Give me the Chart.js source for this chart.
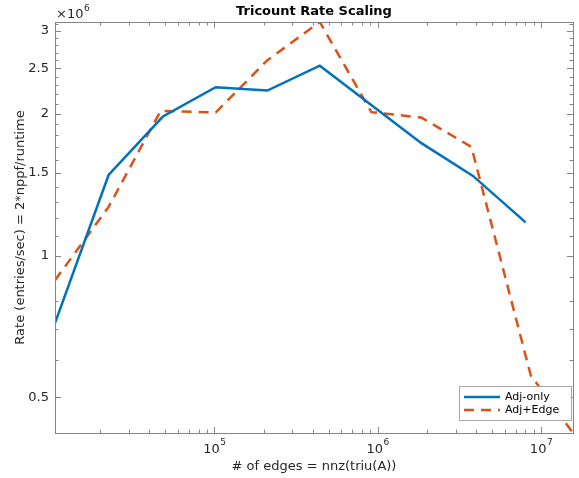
<!DOCTYPE html>
<html>
<head>
<meta charset="utf-8">
<script src="https://cdn.jsdelivr.net/npm/chart.js"></script>
<style>
  body { margin: 0; background: #fff; }
  #wrap { width: 579px; height: 478px; }
</style>
</head>
<body>
<div id="wrap"><canvas id="myChart"></canvas></div>
<script>
// data
var edgesAdj = [1.057e4, 2.25e4, 4.84e4, 1.018e5, 2.11e5, 4.42e5, 9.18e5, 1.852e6, 3.83e6, 8.05e6];
var rateAdj = [0.719e6, 1.484e6, 1.975e6, 2.28e6, 2.243e6, 2.532e6, 2.086e6, 1.734e6, 1.477e6, 1.177e6];
var edgesEdge = [1.057e4, 2.25e4, 4.69e4, 1.018e5, 2.11e5, 4.42e5, 9.15e5, 1.852e6, 3.75e6, 8.65e6, 1.57e7];
var rateEdge = [0.887e6, 1.269e6, 2.031e6, 2.014e6, 2.601e6, 3.136e6, 2.018e6, 1.965e6, 1.702e6, 0.557e6, 0.420e6];
var seriesNames = ["Adj-only", "Adj+Edge"];

// axis ticks
var xTickVals = [1e5, 1e6, 1e7];
var xTickExps = ["5", "6", "7"];
var yTickVals = [0.5e6, 1e6, 1.5e6, 2e6, 2.5e6, 3e6];
var yTickLabels = ["0.5", "1", "1.5", "2", "2.5", "3"];

var FONT = "DejaVu Sans";
var TXT = "#262626";
var AXC = "#858585";

function toXY(xs, ys) {
  return xs.map(function (x, i) { return {x: x, y: ys[i]}; });
}

var matlabAxes = {
  id: "matlabAxes",
  afterDraw: function (chart) {
    var ctx = chart.ctx, a = chart.chartArea;
    var xs = chart.scales.x, ys = chart.scales.y;
    ctx.save();
    ctx.strokeStyle = AXC;
    ctx.lineWidth = 1;
    // box
    ctx.strokeRect(Math.round(a.left) + 0.5, Math.round(a.top) + 0.5,
      Math.round(a.right - a.left), Math.round(a.bottom - a.top));

    ctx.beginPath();
    // x ticks (major + minor), inward on top and bottom
    for (var d = 1e4; d <= 1e7; d *= 10) {
      for (var m = 1; m <= 9; m++) {
        var v = d * m;
        if (v < xs.min || v > xs.max) continue;
        var px = Math.round(xs.getPixelForValue(v)) + 0.5;
        var len = m === 1 ? 6 : 3.5;
        ctx.moveTo(px, a.bottom); ctx.lineTo(px, a.bottom - len);
        ctx.moveTo(px, a.top); ctx.lineTo(px, a.top + len);
      }
    }
    // y ticks every 0.1e6
    for (var k = 4; k <= 31; k++) {
      var yv = k * 1e5;
      if (yv < ys.min || yv > ys.max) continue;
      var py = Math.round(ys.getPixelForValue(yv)) + 0.5;
      var major = (k % 5 === 0);
      var l2 = major ? 6 : 3.5;
      ctx.moveTo(a.left, py); ctx.lineTo(a.left + l2, py);
      ctx.moveTo(a.right, py); ctx.lineTo(a.right - l2, py);
    }
    ctx.stroke();

    // x tick labels 10^n
    ctx.fillStyle = TXT;
    ctx.textBaseline = "alphabetic";
    xTickVals.forEach(function (v, i) {
      var px = xs.getPixelForValue(v);
      ctx.font = "13px '" + FONT + "'";
      var w1 = ctx.measureText("10").width;
      ctx.font = "9px '" + FONT + "'";
      var w2 = ctx.measureText(xTickExps[i]).width;
      var left = px - (w1 + w2) / 2;
      ctx.font = "13px '" + FONT + "'";
      ctx.textAlign = "left";
      ctx.fillText("10", left, 453);
      ctx.font = "9px '" + FONT + "'";
      ctx.fillText(xTickExps[i], left + w1 + 0.5, 445);
    });

    // exponent multiplier
    ctx.font = "13px '" + FONT + "'";
    ctx.textAlign = "left";
    ctx.fillText("\u00d710", a.left + 1, 18);
    var wm = ctx.measureText("\u00d710").width;
    ctx.font = "9px '" + FONT + "'";
    ctx.fillText("6", a.left + 1 + wm + 0.5, 11);

    // title
    ctx.font = "bold 13px '" + FONT + "'";
    ctx.textAlign = "center";
    ctx.fillStyle = "#000";
    ctx.fillText("Tricount Rate Scaling", (a.left + a.right) / 2, 15);

    // axis titles
    ctx.fillStyle = TXT;
    ctx.font = "13px '" + FONT + "'";
    ctx.fillText("# of edges = nnz(triu(A))", (a.left + a.right) / 2, 470);
    ctx.save();
    ctx.translate(24, (a.top + a.bottom) / 2);
    ctx.rotate(-Math.PI / 2);
    ctx.fillText("Rate (entries/sec) = 2*nppf/runtime", 0, 0);
    ctx.restore();

    // legend
    var lx = 459.5, ly = 386.5, lw = 112, lh = 34;
    ctx.fillStyle = "#fff";
    ctx.fillRect(lx, ly, lw, lh);
    ctx.strokeStyle = "#a6a6a6";
    ctx.lineWidth = 1;
    ctx.strokeRect(lx, ly, lw, lh);
    var rows = [397, 410];
    chart.data.datasets.forEach(function (ds, i) {
      ctx.strokeStyle = ds.borderColor;
      ctx.lineWidth = ds.borderWidth;
      ctx.setLineDash(ds.borderDash || []);
      ctx.beginPath();
      ctx.moveTo(464, rows[i]); ctx.lineTo(500, rows[i]);
      ctx.stroke();
      ctx.setLineDash([]);
      ctx.fillStyle = "#000";
      ctx.font = "11px '" + FONT + "'";
      ctx.textAlign = "left";
      ctx.textBaseline = "middle";
      ctx.fillText(ds.label, 505, rows[i]);
    });
    ctx.restore();
  }
};

new Chart("myChart", {
  type: "line",
  data: {
    datasets: [{
      label: seriesNames[0],
      data: toXY(edgesAdj, rateAdj),
      borderColor: "#0072BD",
      borderWidth: 2.5,
      pointRadius: 0,
      fill: false
    }, {
      label: seriesNames[1],
      data: toXY(edgesEdge, rateEdge),
      borderColor: "#D95319",
      borderWidth: 2.5,
      borderDash: [10, 7],
      pointRadius: 0,
      fill: false
    }]
  },
  options: {
    responsive: true,
    maintainAspectRatio: false,
    animation: false,
    layout: {padding: {top: 22, right: 6, left: 0, bottom: 0}},
    plugins: {
      legend: {display: false},
      title: {display: false},
      tooltip: {enabled: false}
    },
    scales: {
      x: {
        type: "logarithmic",
        min: 1.057e4,
        max: 1.57e7,
        grid: {display: false},
        border: {display: false},
        ticks: {display: false},
        afterBuildTicks: function (s) { s.ticks = xTickVals.map(function (v) { return {value: v}; }); },
        afterFit: function (s) { s.height = 45; }
      },
      y: {
        type: "logarithmic",
        min: 0.42e6,
        max: 3.136e6,
        grid: {display: false, drawTicks: false},
        border: {display: false},
        afterBuildTicks: function (s) { s.ticks = yTickVals.map(function (v) { return {value: v}; }); },
        ticks: {
          padding: 6,
          color: TXT,
          font: {family: FONT, size: 13},
          autoSkip: false,
          callback: function (v, i) { return yTickLabels[i]; }
        },
        afterFit: function (s) { s.width = 55; }
      }
    }
  },
  plugins: [matlabAxes]
});
</script>
</body>
</html>
